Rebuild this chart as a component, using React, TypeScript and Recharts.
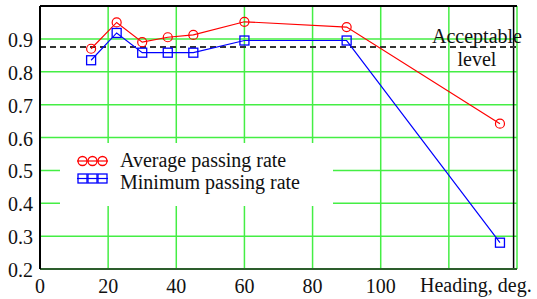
import { LineChart, Line, XAxis, YAxis, CartesianGrid, ReferenceLine, Legend } from 'recharts'

const HEADING = [15, 22.5, 30, 37.5, 45, 60, 90, 135]
const AVG_RATE = [0.87, 0.95, 0.89, 0.905, 0.912, 0.952, 0.936, 0.642]
const MIN_RATE = [0.835, 0.918, 0.858, 0.858, 0.858, 0.895, 0.895, 0.28]
const X_TICKS = [0, 20, 40, 60, 80, 100, 120, 140]
const X_LABELS = [0, 20, 40, 60, 80, 100]
const Y_TICKS = [0.2, 0.3, 0.4, 0.5, 0.6, 0.7, 0.8, 0.9, 1.0]
const ACCEPTABLE = 0.875

const SERIES = [
  { key: 'avg', name: 'Average passing rate', color: '#ff0000', marker: 'circle' },
  { key: 'min', name: 'Minimum passing rate', color: '#0000ff', marker: 'square' },
]

const data = HEADING.map((h, i) => ({ heading: h, avg: AVG_RATE[i], min: MIN_RATE[i] }))

const FONT = '"Liberation Serif", "Times New Roman", serif'
const GRID = '#44ee44'
const textStyle = { fontFamily: FONT, fontSize: 20 }

function CircleDot(props: any) {
  const { cx, cy, stroke } = props
  if (cx == null || cy == null) return null
  return <circle cx={cx} cy={cy} r={4.5} fill="none" stroke={stroke} strokeWidth={1.2} />
}

function SquareDot(props: any) {
  const { cx, cy, stroke } = props
  if (cx == null || cy == null) return null
  return <rect x={cx - 4.5} y={cy - 4.5} width={9} height={9} fill="none" stroke={stroke} strokeWidth={1.3} />
}

function YTick({ x, y, payload }: any) {
  if (payload.value > 0.95) return null
  return (
    <text x={x} y={y + 8} textAnchor="end" style={textStyle} fill="#111">
      {payload.value.toFixed(1)}
    </text>
  )
}

function XTick({ x, y, payload }: any) {
  if (!X_LABELS.includes(payload.value)) return null
  return (
    <text x={x} y={y + 24} textAnchor="middle" style={textStyle} fill="#111">
      {payload.value}
    </text>
  )
}

function AxisName({ viewBox }: any) {
  const { x, y, width } = viewBox
  return (
    <text x={x + width - 97} y={y + 23} style={textStyle} fill="#111">
      Heading, deg.
    </text>
  )
}

function AcceptableLabel({ viewBox }: any) {
  const { x, y, width } = viewBox
  const cx = x + width - 40
  return (
    <text style={textStyle} fill="#111" textAnchor="middle">
      <tspan x={cx} y={y - 4}>Acceptable</tspan>
      <tspan x={cx} y={y + 19}>level</tspan>
    </text>
  )
}

function LegendBox() {
  return (
    <svg width={273} height={63} style={{ display: 'block', background: '#fff' }}>
      {SERIES.map((s, i) => {
        const cy = 18 + i * 17.5
        const base = 24 + i * 22
        return (
          <g key={s.key}>
            <line x1={17} x2={48} y1={cy} y2={cy} stroke={s.color} strokeWidth={1.2} />
            {[22.5, 32.5, 42.5].map(mx =>
              s.marker === 'circle'
                ? <circle key={mx} cx={mx} cy={cy} r={4.5} fill="none" stroke={s.color} strokeWidth={1.3} />
                : <rect key={mx} x={mx - 4.5} y={cy - 4.5} width={9} height={9} fill="none" stroke={s.color} strokeWidth={1.3} />
            )}
            <text x={60} y={base} style={textStyle} fill="#111">{s.name}</text>
          </g>
        )
      })}
    </svg>
  )
}

export default function App() {
  return (
    <div style={{ position: 'absolute', left: 0, top: 0, width: 537, height: 299, background: '#fff', fontFamily: FONT }}>
      <LineChart width={537} height={299} data={data} margin={{ top: 6, right: 20, bottom: 0, left: 0 }}>
        <CartesianGrid stroke={GRID} strokeWidth={1.5} horizontalValues={Y_TICKS} verticalValues={X_TICKS} />
        <XAxis
          dataKey="heading"
          type="number"
          domain={[0, 140]}
          ticks={X_TICKS}
          height={30}
          tickSize={0}
          tickMargin={0}
          tick={<XTick />}
          axisLine={{ stroke: '#2d5e2d', strokeWidth: 2 }}
          label={<AxisName />}
        />
        <YAxis
          type="number"
          domain={[0.2, 1.0]}
          ticks={Y_TICKS}
          width={40}
          tickSize={0}
          tickMargin={7}
          tick={<YTick />}
          axisLine={{ stroke: '#000', strokeWidth: 2 }}
        />
        <ReferenceLine y={1.0} stroke="#000" strokeWidth={2} />
        <ReferenceLine x={139} stroke="#000" strokeWidth={1.5} />
        <ReferenceLine
          y={ACCEPTABLE}
          stroke="#333"
          strokeWidth={2}
          strokeDasharray="6 4"
          label={<AcceptableLabel />}
        />
        <Legend
          layout="horizontal"
          verticalAlign="middle"
          align="center"
          content={() => <LegendBox />}
          wrapperStyle={{ left: 60, top: 143, width: 273, height: 63 }}
        />
        {SERIES.map(s => (
          <Line
            key={s.key}
            dataKey={s.key}
            name={s.name}
            stroke={s.color}
            strokeWidth={1.2}
            dot={s.marker === 'circle' ? <CircleDot /> : <SquareDot />}
            activeDot={false}
            isAnimationActive={false}
          />
        ))}
      </LineChart>
    </div>
  )
}
